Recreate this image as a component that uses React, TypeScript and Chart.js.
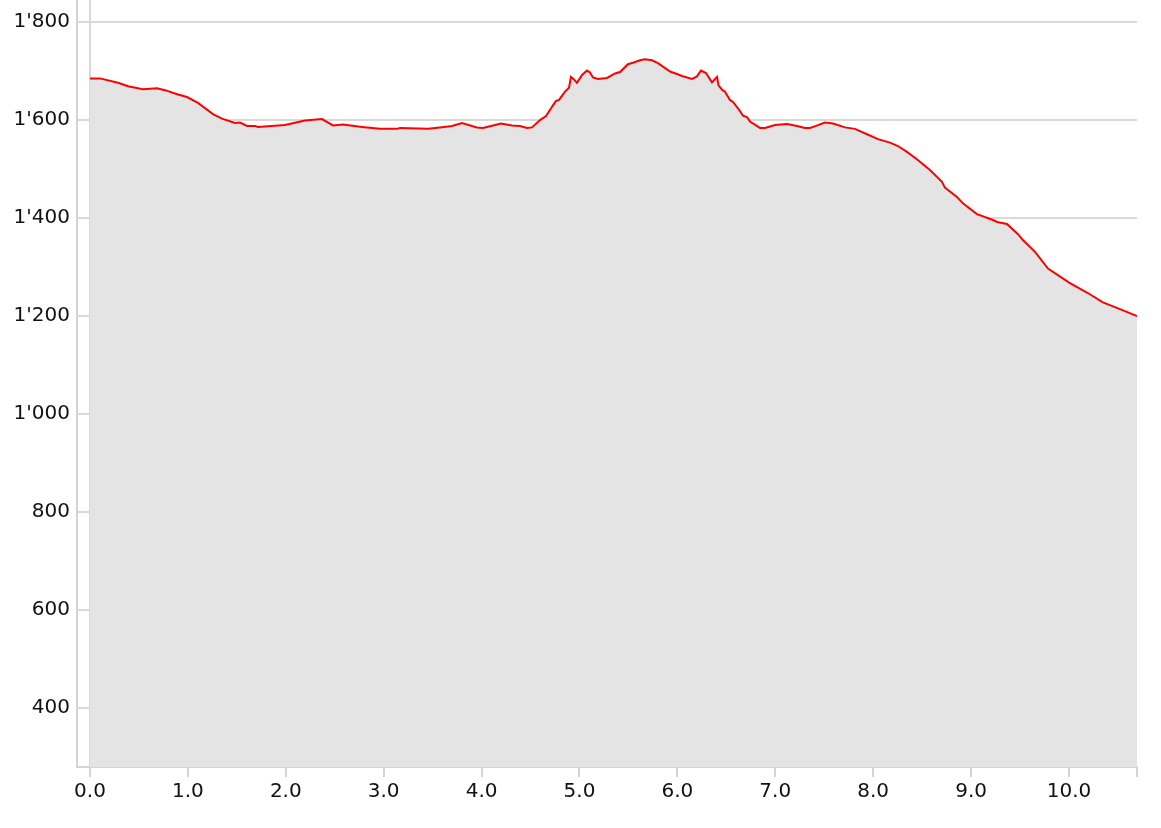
import React, { useEffect, useRef } from "react";
import { Chart, registerables } from "chart.js";

Chart.register(...registerables);

// Distance along route (km)
const distances: number[] = [
  0.0, 0.102, 0.286, 0.388, 0.541, 0.684, 0.766, 0.899, 0.991, 1.103,
  1.256, 1.348, 1.481, 1.532, 1.604, 1.685, 1.716, 1.992, 2.196, 2.37,
  2.482, 2.584, 2.778, 2.962, 3.136, 3.166, 3.453, 3.575, 3.698, 3.8,
  3.953, 4.014, 4.198, 4.31, 4.392, 4.464, 4.515, 4.597, 4.658, 4.719,
  4.76, 4.791, 4.852, 4.893, 4.913, 4.944, 4.974, 5.026, 5.077, 5.107,
  5.138, 5.189, 5.281, 5.363, 5.414, 5.495, 5.546, 5.618, 5.669, 5.741,
  5.802, 5.853, 5.925, 5.996, 6.047, 6.15, 6.2, 6.241, 6.292, 6.353,
  6.405, 6.42, 6.456, 6.486, 6.537, 6.568, 6.619, 6.67, 6.711, 6.742,
  6.844, 6.895, 6.997, 7.12, 7.222, 7.303, 7.355, 7.416, 7.508, 7.59,
  7.712, 7.814, 7.937, 8.049, 8.172, 8.253, 8.345, 8.447, 8.58, 8.703,
  8.733, 8.856, 8.917, 9.06, 9.224, 9.265, 9.367, 9.479, 9.53, 9.653,
  9.786, 10.01, 10.184, 10.347, 10.521, 10.695,
];

// Elevation (m)
const elevations: number[] = [
  1685, 1685, 1676, 1669, 1663, 1665, 1661, 1652, 1647, 1635,
  1612, 1603, 1594, 1595, 1588, 1588, 1586, 1590, 1599, 1602,
  1589, 1591, 1586, 1582, 1582, 1584, 1582, 1585, 1588, 1594,
  1585, 1584, 1593, 1589, 1588, 1584, 1585, 1600, 1608, 1627,
  1639, 1641, 1658, 1666, 1688, 1683, 1676, 1692, 1701, 1697,
  1687, 1684, 1686, 1695, 1698, 1714, 1717, 1722, 1724, 1722,
  1716, 1709, 1699, 1694, 1690, 1684, 1689, 1701, 1696, 1677,
  1688, 1671, 1662, 1658, 1641, 1637, 1624, 1609, 1606, 1597,
  1584, 1584, 1590, 1592, 1588, 1584, 1584, 1588, 1595, 1593,
  1585, 1582, 1571, 1561, 1554, 1547, 1535, 1520, 1498, 1474,
  1462, 1443, 1430, 1408, 1396, 1392, 1388, 1367, 1355, 1331,
  1297, 1267, 1248, 1228, 1214, 1200,
];

const xTickValues: number[] = [0, 1, 2, 3, 4, 5, 6, 7, 8, 9, 10];
const yTickValues: number[] = [400, 600, 800, 1000, 1200, 1400, 1600, 1800];

const X_MIN = -0.1328;
const X_MAX = 10.695;
const Y_MIN = 279.6;
const Y_MAX = 1845;

const formatThousands = (v: number): string => {
  if (v >= 1000) {
    const th = Math.floor(v / 1000);
    const rest = Math.round(v % 1000);
    return th + "'" + String(rest).padStart(3, "0");
  }
  return String(Math.round(v));
};

export default function App() {
  const canvasRef = useRef<HTMLCanvasElement | null>(null);

  useEffect(() => {
    if (!canvasRef.current) return;
    const points = distances.map((d, i) => ({ x: d, y: elevations[i] }));
    const font = { family: "'DejaVu Sans'", size: 20 };
    const chart = new Chart(canvasRef.current, {
      type: "line",
      data: {
        datasets: [
          {
            data: points,
            borderColor: "#ff0000",
            borderWidth: 2,
            backgroundColor: "#e4e4e4",
            fill: "start",
            pointRadius: 0,
            tension: 0,
          },
        ],
      },
      options: {
        responsive: false,
        animation: false,
        layout: { padding: { left: 0, right: 24, top: 0, bottom: 0 } },
        plugins: {
          legend: { display: false },
          tooltip: { enabled: false },
        },
        scales: {
          x: {
            type: "linear",
            min: X_MIN,
            max: X_MAX,
            afterBuildTicks: (scale: any) => {
              scale.ticks = [...xTickValues, X_MAX].map((v) => ({ value: v }));
            },
            afterFit: (scale: any) => {
              scale.height = 61;
              scale.paddingLeft = 0;
              scale.paddingRight = 0;
            },
            ticks: {
              autoSkip: false,
              maxRotation: 0,
              minRotation: 0,
              padding: 3,
              color: "#111",
              font,
              callback: (v: any) =>
                Math.abs(Number(v) - X_MAX) < 1e-6 ? "" : Number(v).toFixed(1),
            },
            grid: {
              color: (ctx: any) =>
                ctx.tick && ctx.tick.value === 0 ? "#d9d9d9" : "rgba(0,0,0,0)",
              lineWidth: 2,
              tickLength: 10,
              tickColor: "#d4d4d4",
              drawTicks: true,
            },
            border: { color: "#d4d4d4", width: 2 },
          },
          y: {
            type: "linear",
            min: Y_MIN,
            max: Y_MAX,
            afterBuildTicks: (scale: any) => {
              scale.ticks = yTickValues.map((v) => ({ value: v }));
            },
            afterFit: (scale: any) => {
              scale.width = 77;
              scale.paddingTop = 0;
              scale.paddingBottom = 0;
            },
            ticks: {
              padding: 7,
              color: "#111",
              font,
              callback: (v: any) => formatThousands(Number(v)),
            },
            grid: {
              color: "#d9d9d9",
              lineWidth: 2,
              drawTicks: false,
            },
            border: { color: "#d4d4d4", width: 2 },
          },
        },
      },
    } as any);
    return () => chart.destroy();
  }, []);

  return (
    <div style={{ position: "absolute", left: 0, top: 0, width: 1161, height: 828 }}>
      <canvas ref={canvasRef} width={1161} height={828} style={{ display: "block" }} />
    </div>
  );
}
